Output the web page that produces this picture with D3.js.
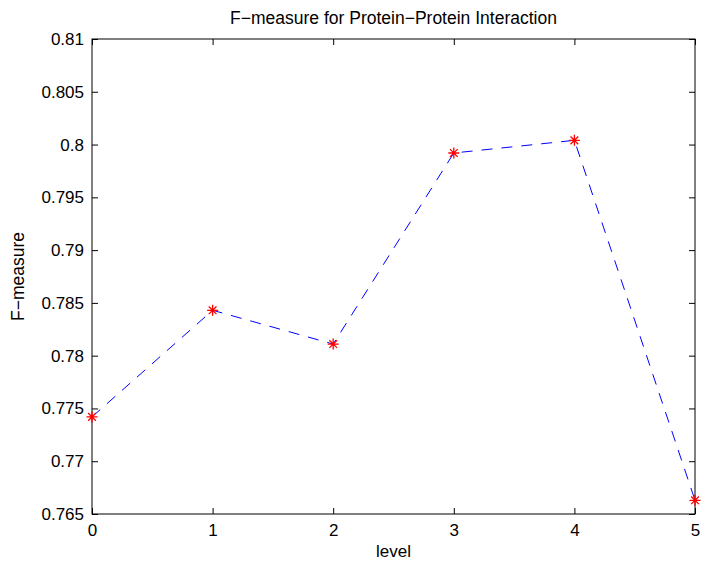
<!DOCTYPE html>
<html>
<head>
<meta charset="utf-8">
<script src="https://cdn.jsdelivr.net/npm/d3@7"></script>
<style>
  body { margin: 0; background: #fff; }
  text { font-family: "Liberation Sans", Arial, sans-serif; fill: #000; }
</style>
</head>
<body>
<script>
var levels = [0, 1, 2, 3, 4, 5]
var fmeasure = [0.7742, 0.7843, 0.7811, 0.7992, 0.8004, 0.7663]
var yTicks = [0.765, 0.77, 0.775, 0.78, 0.785, 0.79, 0.795, 0.8, 0.805, 0.81]
var yTickLabels = ["0.765", "0.77", "0.775", "0.78", "0.785", "0.79", "0.795", "0.8", "0.805", "0.81"]

;(function() {
  var W = 706, H = 566
  var pl = 92, pr = 695, pt = 39, pb = 514

  var x = d3.scaleLinear().domain([0, 5]).range([pl, pr])
  var y = d3.scaleLinear().domain([0.765, 0.81]).range([pb, pt])

  var svg = d3.select("body").append("svg")
    .attr("width", W).attr("height", H)

  svg.append("rect")
    .attr("x", pl).attr("y", pt)
    .attr("width", pr - pl).attr("height", pb - pt)
    .style("fill", "#fff").style("stroke", "#000").style("stroke-width", 1)

  // bottom / left axes with inward ticks
  var gx = svg.append("g").attr("transform", "translate(0," + pb + ")")
    .call(d3.axisBottom(x).tickValues(levels).tickSize(-6).tickPadding(10)
      .tickFormat(d3.format("d")))
  var gy = svg.append("g").attr("transform", "translate(" + pl + ",0)")
    .call(d3.axisLeft(y).tickValues(yTicks).tickSize(-6).tickPadding(8)
      .tickFormat(function(d, i) { return yTickLabels[i] }))

  // top / right mirror ticks
  var gt = svg.append("g").attr("transform", "translate(0," + pt + ")")
    .call(d3.axisTop(x).tickValues(levels).tickSize(-6).tickFormat(""))
  var gr = svg.append("g").attr("transform", "translate(" + pr + ",0)")
    .call(d3.axisRight(y).tickValues(yTicks).tickSize(-6).tickFormat(""))

  ;[gx, gy, gt, gr].forEach(function(g) {
    g.select(".domain").remove()
    g.selectAll(".tick line").style("stroke", "#000")
    g.selectAll("text").style("font-size", "17px")
      .style("font-family", "Liberation Sans, Arial, sans-serif")
  })

  // dashed line
  var line = d3.line()
    .x(function(d, i) { return x(levels[i]) })
    .y(function(d) { return y(d) })
  svg.append("path")
    .attr("d", line(fmeasure))
    .style("fill", "none")
    .style("stroke", "#0000ff")
    .style("stroke-width", 1)
    .style("stroke-dasharray", "11,9")

  // asterisk markers
  var r = 5.5
  svg.append("g").selectAll("path.pt")
    .data(fmeasure).enter().append("path")
    .attr("transform", function(d, i) { return "translate(" + x(levels[i]) + "," + y(d) + ")" })
    .attr("d", "M" + (-r) + ",0H" + r + "M0," + (-r) + "V" + r +
      "M" + (-r * 0.7) + "," + (-r * 0.7) + "L" + (r * 0.7) + "," + (r * 0.7) +
      "M" + (-r * 0.7) + "," + (r * 0.7) + "L" + (r * 0.7) + "," + (-r * 0.7))
    .style("stroke", "#ff0000").style("stroke-width", 1.3).style("fill", "none")

  // labels
  svg.append("text")
    .attr("x", (pl + pr) / 2).attr("y", 24)
    .attr("text-anchor", "middle")
    .style("font-size", "17.5px")
    .text("F\u2212measure for Protein\u2212Protein Interaction")

  svg.append("text")
    .attr("x", (pl + pr) / 2).attr("y", 557)
    .attr("text-anchor", "middle")
    .style("font-size", "17px")
    .text("level")

  svg.append("text")
    .attr("transform", "translate(24," + ((pt + pb) / 2) + ") rotate(-90)")
    .attr("text-anchor", "middle")
    .style("font-size", "17.5px")
    .text("F\u2212measure")
})()
</script>
</body>
</html>
